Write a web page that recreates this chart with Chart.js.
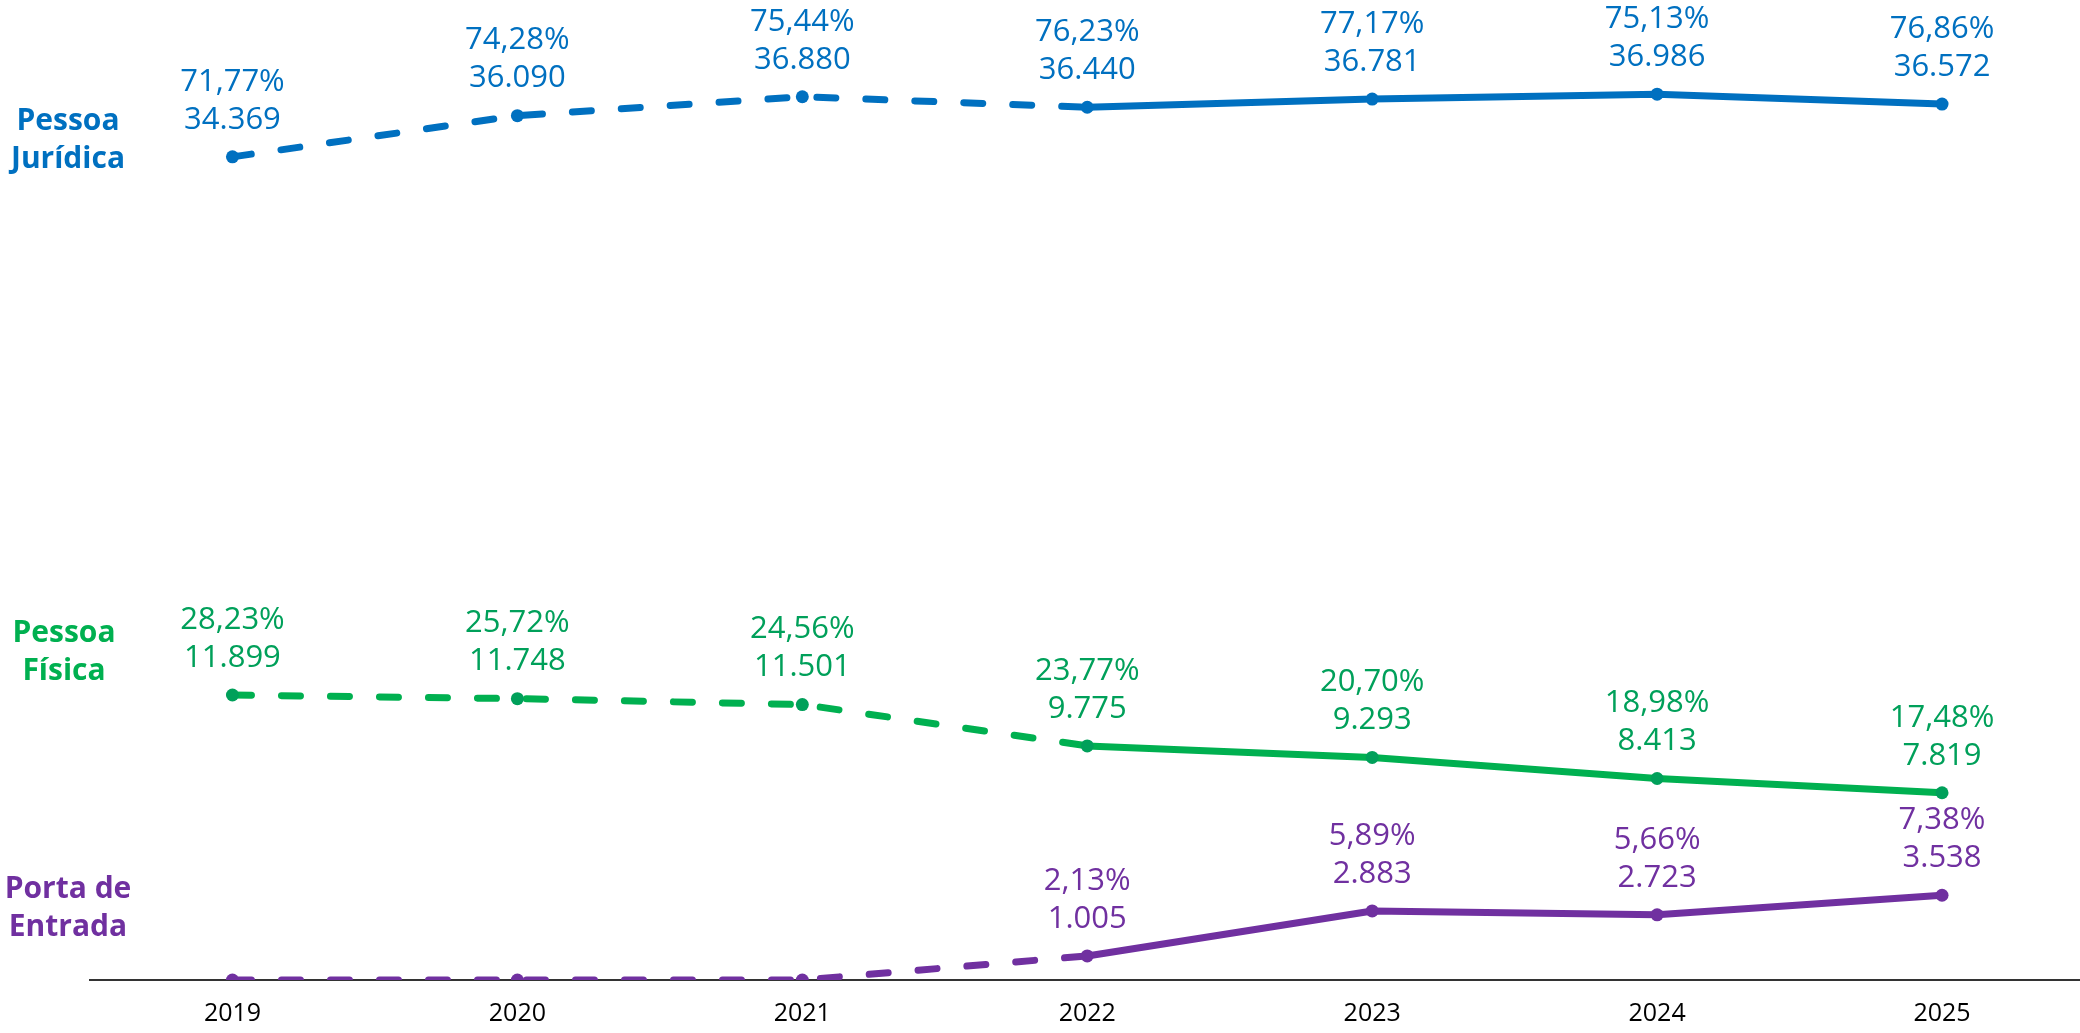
<!DOCTYPE html>
<html>
<head>
<meta charset="utf-8">
<script src="https://cdn.jsdelivr.net/npm/chart.js@4"></script>
<style>
  html, body { margin: 0; padding: 0; background: #fff; overflow: hidden; }
  #wrap { position: relative; width: 2091px; height: 1033px; }
</style>
</head>
<body>
<div id="wrap"><canvas id="myChart"></canvas></div>
<script>
const years = ['2019', '2020', '2021', '2022', '2023', '2024', '2025'];

const pjValues = [34369, 36090, 36880, 36440, 36781, 36986, 36572];
const pjPct = [71.77, 74.28, 75.44, 76.23, 77.17, 75.13, 76.86];

const pfValues = [11899, 11748, 11501, 9775, 9293, 8413, 7819];
const pfPct = [28.23, 25.72, 24.56, 23.77, 20.70, 18.98, 17.48];

const peValues = [0, 0, 0, 1005, 2883, 2723, 3538];
const pePct = [0, 0, 0, 2.13, 5.89, 5.66, 7.38];

const BLUE = '#0070C0';
const GREEN = '#00B050';
const GREEN_DARK = '#00A05A';
const PURPLE = '#7030A0';

// first 3 segments (2019 -> 2022) are dashed
const dashed = ctx => ctx.p0DataIndex < 3 ? [19, 30] : [];

function fmtInt(v) {
  return String(v).replace(/\B(?=(\d{3})+(?!\d))/g, '.');
}
function fmtPct(v) {
  return v.toFixed(2).replace('.', ',') + '%';
}

function makeSet(label, values, pct, lineColor, pointColor, textColor) {
  return {
    label,
    data: values,
    pct,
    textColor,
    borderColor: lineColor,
    backgroundColor: pointColor,
    pointBackgroundColor: pointColor,
    pointBorderColor: pointColor,
    pointRadius: 6.5,
    pointBorderWidth: 0,
    borderWidth: 7,
    borderCapStyle: 'round',
    borderJoinStyle: 'round',
    tension: 0,
    segment: { borderDash: dashed },
  };
}

// value labels above each point: percentage over count
const valueLabels = {
  id: 'valueLabels',
  afterDatasetsDraw(chart) {
    const { ctx } = chart;
    ctx.save();
    ctx.textAlign = 'center';
    ctx.textBaseline = 'middle';
    ctx.font = '31px "Open Sans"';
    chart.data.datasets.forEach((ds, di) => {
      const meta = chart.getDatasetMeta(di);
      ctx.fillStyle = ds.textColor;
      meta.data.forEach((pt, i) => {
        if (!ds.data[i]) return;
        ctx.fillText(fmtPct(ds.pct[i]), pt.x, pt.y - 75);
        ctx.fillText(fmtInt(ds.data[i]), pt.x, pt.y - 37);
      });
    });
    ctx.restore();
  }
};

// series names on the left
const seriesTitles = {
  id: 'seriesTitles',
  afterDraw(chart) {
    const { ctx } = chart;
    const titles = [
      { lines: ['Pessoa', 'Jurídica'], color: BLUE, x: 68, y: 121 },
      { lines: ['Pessoa', 'Física'], color: GREEN, x: 64, y: 633 },
      { lines: ['Porta de', 'Entrada'], color: PURPLE, x: 68, y: 889 },
    ];
    ctx.save();
    ctx.textAlign = 'center';
    ctx.textBaseline = 'middle';
    ctx.font = 'bold 30px "Open Sans"';
    titles.forEach(t => {
      ctx.fillStyle = t.color;
      t.lines.forEach((s, k) => ctx.fillText(s, t.x, t.y + k * 38));
    });
    ctx.restore();
  }
};

const data = {
  labels: years,
  datasets: [
    makeSet('Pessoa Jurídica', pjValues, pjPct, BLUE, BLUE, BLUE),
    makeSet('Pessoa Física', pfValues, pfPct, GREEN, GREEN_DARK, GREEN_DARK),
    makeSet('Porta de Entrada', peValues, pePct, PURPLE, PURPLE, PURPLE),
  ],
};

const config = {
  type: 'line',
  data: data,
  options: {
    responsive: true,
    maintainAspectRatio: false,
    animation: false,
    layout: { padding: { left: 90, right: 2, top: 22, bottom: 4 } },
    plugins: {
      legend: { display: false },
      tooltip: { enabled: false },
    },
    scales: {
      x: {
        offset: true,
        grid: { display: false, drawTicks: false },
        border: { display: true, color: '#333333', width: 2 },
        ticks: {
          color: '#000',
          padding: 19,
          font: { family: 'Open Sans', size: 25 },
          maxRotation: 0,
        },
        afterFit(scale) {
          scale.height = 49;
        },
      },
      y: {
        display: false,
        min: 0,
        max: 40000,
      },
    },
  },
  plugins: [valueLabels, seriesTitles],
};

const myChart = new Chart(document.getElementById('myChart'), config);
</script>
</body>
</html>
